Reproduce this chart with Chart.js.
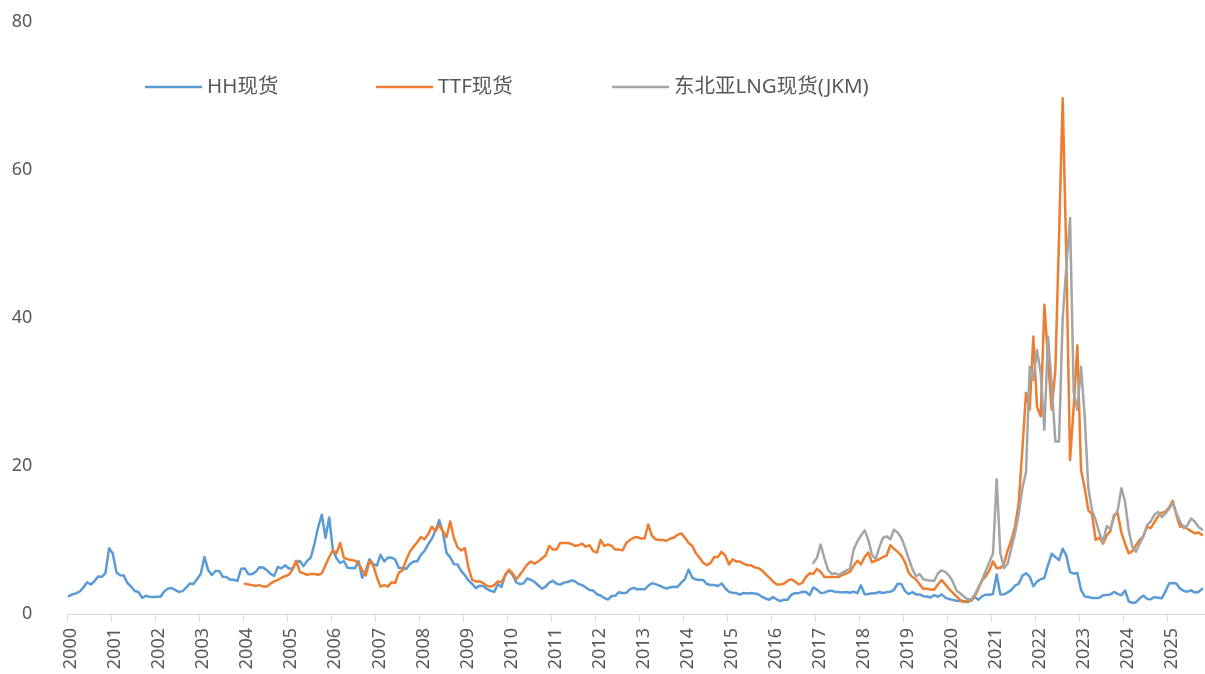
<!DOCTYPE html>
<html lang="zh-CN">
<head>
<meta charset="utf-8">
<title>HH / TTF / JKM 现货价格</title>
<script src="https://cdn.jsdelivr.net/npm/chart.js@4.4.1/dist/chart.umd.min.js"></script>
<style>
  html, body { margin: 0; padding: 0; background: #fff; }
  #wrap { width: 1205px; height: 674px; position: relative; }
</style>
</head>
<body>
<div id="wrap"><canvas id="gasChart"></canvas></div>
<script>
// Monthly spot prices, USD/MMBtu. Index 0 = Jan 2000.
const yearLabels = ['2000', '2001', '2002', '2003', '2004', '2005', '2006', '2007', '2008',
  '2009', '2010', '2011', '2012', '2013', '2014', '2015', '2016', '2017', '2018', '2019',
  '2020', '2021', '2022', '2023', '2024', '2025'];
const yTicks = [0, 20, 40, 60, 80];

const hhStart = 0;     // 2000-01
const ttfStart = 48;   // 2004-01
const jkmStart = 203;  // 2016-12

const hhSpot = [
  2.42, 2.66, 2.79, 3.04, 3.59, 4.29, 3.99, 4.43, 5.06, 5.02, 5.52, 8.90,       // 2000
  8.17, 5.61, 5.23, 5.19, 4.19, 3.72, 3.11, 2.97, 2.19, 2.46, 2.34, 2.30,       // 2001
  2.32, 2.32, 3.03, 3.43, 3.50, 3.26, 2.99, 3.09, 3.55, 4.13, 4.04, 4.74,       // 2002
  5.43, 7.71, 5.93, 5.26, 5.81, 5.82, 5.03, 4.99, 4.62, 4.63, 4.47, 6.13,       // 2003
  6.14, 5.37, 5.39, 5.71, 6.33, 6.27, 5.93, 5.41, 5.15, 6.35, 6.17, 6.58,       // 2004
  6.15, 6.14, 6.96, 7.16, 6.47, 7.18, 7.63, 9.53, 11.75, 13.42, 10.30, 13.05,   // 2005
  8.69, 7.54, 6.89, 7.16, 6.25, 6.21, 6.17, 7.14, 4.90, 5.85, 7.41, 6.73,       // 2006
  6.55, 8.00, 7.11, 7.60, 7.64, 7.35, 6.22, 6.22, 6.08, 6.74, 7.10, 7.11,       // 2007
  7.99, 8.54, 9.41, 10.18, 11.27, 12.69, 11.09, 8.26, 7.67, 6.74, 6.68, 5.82,   // 2008
  5.24, 4.52, 4.06, 3.50, 3.83, 3.80, 3.38, 3.14, 2.99, 4.01, 3.66, 5.35,       // 2009
  5.83, 5.32, 4.29, 4.03, 4.14, 4.80, 4.63, 4.32, 3.89, 3.43, 3.71, 4.25,       // 2010
  4.49, 4.09, 3.97, 4.24, 4.31, 4.54, 4.42, 4.06, 3.90, 3.57, 3.24, 3.17,       // 2011
  2.67, 2.50, 2.17, 1.95, 2.43, 2.46, 2.95, 2.84, 2.85, 3.32, 3.54, 3.34,       // 2012
  3.33, 3.33, 3.81, 4.17, 4.04, 3.83, 3.62, 3.43, 3.62, 3.68, 3.64, 4.24,       // 2013
  4.71, 6.00, 4.90, 4.66, 4.58, 4.59, 4.05, 3.91, 3.92, 3.78, 4.12, 3.48,       // 2014
  2.99, 2.87, 2.83, 2.61, 2.85, 2.78, 2.84, 2.77, 2.66, 2.34, 2.09, 1.93,       // 2015
  2.28, 1.99, 1.73, 1.92, 1.92, 2.59, 2.82, 2.82, 2.99, 2.98, 2.55, 3.59,       // 2016
  3.30, 2.85, 2.88, 3.10, 3.15, 2.98, 2.98, 2.90, 2.98, 2.88, 3.01, 2.82,       // 2017
  3.87, 2.67, 2.69, 2.80, 2.80, 2.97, 2.83, 2.96, 3.00, 3.28, 4.09, 4.04,       // 2018
  3.11, 2.69, 2.95, 2.65, 2.64, 2.40, 2.37, 2.22, 2.56, 2.33, 2.65, 2.22,       // 2019
  2.02, 1.91, 1.79, 1.74, 1.75, 1.63, 1.77, 2.30, 1.92, 2.39, 2.61, 2.59,       // 2020
  2.71, 5.35, 2.62, 2.66, 2.91, 3.26, 3.84, 4.07, 5.16, 5.51, 5.05, 3.76,       // 2021
  4.38, 4.69, 4.90, 6.60, 8.14, 7.70, 7.28, 8.81, 7.88, 5.66, 5.45, 5.53,       // 2022
  3.27, 2.38, 2.31, 2.16, 2.15, 2.18, 2.55, 2.58, 2.64, 2.98, 2.71, 2.52,       // 2023
  3.18, 1.72, 1.49, 1.60, 2.12, 2.48, 2.04, 1.99, 2.28, 2.20, 2.12, 3.01,       // 2024
  4.13, 4.19, 4.12, 3.42, 3.12, 3.02, 3.20, 2.91, 2.97, 3.40                    // 2025
];

const ttfSpot = [
  4.1, 4.0, 3.9, 3.8, 3.9, 3.7, 3.7, 4.1, 4.4, 4.6, 4.9, 5.1,          // 2004
  5.3, 6.0, 7.2, 5.7, 5.5, 5.3, 5.4, 5.4, 5.3, 5.5, 6.6, 7.7,          // 2005
  8.6, 8.2, 9.6, 7.6, 7.4, 7.3, 7.2, 6.9, 5.9, 5.2, 7.2, 6.6,          // 2006
  5.0, 3.7, 3.9, 3.7, 4.3, 4.2, 5.6, 5.9, 7.3, 8.4, 9.1, 9.7,          // 2007
  10.4, 10.1, 10.8, 11.8, 11.2, 12.0, 11.2, 10.4, 12.5, 10.3, 9.0, 8.6, // 2008
  8.9, 6.2, 4.6, 4.4, 4.4, 4.2, 3.8, 3.7, 3.9, 4.4, 4.3, 5.2,          // 2009
  6.0, 5.5, 4.7, 5.3, 6.0, 6.7, 7.1, 6.8, 7.1, 7.5, 7.9, 9.2,          // 2010
  8.7, 8.7, 9.6, 9.6, 9.6, 9.5, 9.2, 9.3, 9.5, 9.1, 9.3, 8.5,          // 2011
  8.3, 10.0, 9.2, 9.4, 9.2, 8.7, 8.7, 8.6, 9.6, 10.0, 10.3, 10.4,      // 2012
  10.2, 10.2, 12.1, 10.6, 10.1, 10.0, 10.0, 9.9, 10.2, 10.3, 10.7, 10.9, // 2013
  10.3, 9.6, 9.2, 8.2, 7.6, 6.9, 6.6, 6.9, 7.7, 7.7, 8.4, 7.9,         // 2014
  6.7, 7.4, 7.1, 7.1, 6.8, 6.6, 6.6, 6.3, 6.2, 5.9, 5.4, 4.9,          // 2015
  4.4, 4.0, 4.0, 4.1, 4.5, 4.7, 4.4, 4.0, 4.2, 5.0, 5.5, 5.4,          // 2016
  6.1, 5.7, 5.0, 5.0, 5.0, 5.0, 5.0, 5.3, 5.5, 5.7, 6.5, 7.2,          // 2017
  6.7, 7.7, 8.3, 7.0, 7.2, 7.4, 7.7, 7.9, 9.3, 8.8, 8.4, 7.9,          // 2018
  7.0, 5.6, 5.0, 4.7, 4.0, 3.4, 3.4, 3.3, 3.3, 4.0, 4.6, 4.0,          // 2019
  3.4, 2.9, 2.4, 1.9, 1.6, 1.8, 1.8, 2.4, 3.4, 4.5, 5.1, 5.9,          // 2020
  7.1, 6.2, 6.2, 6.8, 8.6, 10.0, 11.8, 15.0, 22.2, 29.9, 27.6, 37.5,   // 2021
  28.0, 26.7, 41.8, 34.5, 27.6, 33.0, 51.0, 69.7, 48.0, 20.8, 28.0, 36.3, // 2022
  19.5, 17.0, 14.0, 13.5, 10.0, 10.3, 9.5, 10.6, 11.2, 13.4, 13.6, 11.0, // 2023
  9.5, 8.2, 8.5, 9.3, 10.0, 10.5, 11.8, 11.6, 12.4, 13.2, 13.7, 13.8,  // 2024
  14.4, 15.3, 13.4, 11.8, 11.9, 11.5, 11.2, 10.9, 11.0, 10.7           // 2025
];

const jkmSpot = [
  6.9,                                                                 // 2016-12
  7.6, 9.4, 7.6, 6.0, 5.4, 5.5, 5.3, 5.6, 5.9, 6.1, 8.7, 9.8,          // 2017
  10.6, 11.3, 10.0, 8.0, 7.4, 9.0, 10.3, 10.5, 10.1, 11.4, 11.0, 10.3, // 2018
  9.0, 7.5, 6.1, 5.1, 5.4, 4.7, 4.6, 4.5, 4.5, 5.5, 5.9, 5.7,          // 2019
  5.2, 4.4, 3.2, 2.8, 2.4, 2.0, 2.0, 2.6, 3.6, 4.6, 5.8, 7.0,          // 2020
  8.2, 18.2, 8.2, 6.2, 6.8, 8.9, 10.9, 13.5, 17.0, 19.2, 33.4, 31.6,   // 2021
  35.7, 32.5, 24.9, 37.5, 31.0, 23.3, 23.3, 40.0, 47.0, 53.5, 30.0, 27.6, // 2022
  33.4, 26.7, 17.0, 14.0, 12.7, 11.0, 9.7, 11.9, 11.5, 13.1, 14.0, 17.0, // 2023
  15.2, 11.3, 9.1, 8.4, 9.5, 10.5, 12.0, 12.5, 13.4, 13.8, 13.1, 13.6, // 2024
  14.2, 15.0, 13.6, 12.5, 11.6, 12.0, 12.9, 12.5, 11.8, 11.4           // 2025
];

const seriesNames = ['HH现货', 'TTF现货', '东北亚LNG现货(JKM)'];
const seriesColors = ['#5B9BD5', '#ED7D31', '#A5A5A5'];

const FONT = '"Noto Sans", "Noto Sans CJK SC", sans-serif';
const TEXT_GRAY = '#595959';
const AXIS_GRAY = '#D9D9D9';

// month index -> point; values sit a little after the year tick, like the original
function toPoints(values, start) {
  return values.map((v, i) => ({ x: start + i + 0.4, y: v }));
}

// legend drawn inside the plot, one row near the top
const legendSlots = [145, 376, 612];
const insideLegend = {
  id: 'insideLegend',
  afterDraw(chart) {
    const ctx = chart.ctx;
    ctx.save();
    ctx.font = '20.5px ' + FONT;
    ctx.textBaseline = 'middle';
    ctx.textAlign = 'left';
    chart.data.datasets.forEach((ds, i) => {
      const x = legendSlots[i];
      const y = 87;
      ctx.strokeStyle = ds.borderColor;
      ctx.lineWidth = 2.5;
      ctx.beginPath();
      ctx.moveTo(x, y);
      ctx.lineTo(x + 57, y);
      ctx.stroke();
      ctx.fillStyle = TEXT_GRAY;
      ctx.fillText(ds.label, x + 62, y);
    });
    ctx.restore();
  }
};

function makeDataset(idx, values, start, order) {
  return {
    label: seriesNames[idx],
    data: toPoints(values, start),
    borderColor: seriesColors[idx],
    backgroundColor: seriesColors[idx],
    borderWidth: 2.5,
    pointRadius: 0,
    pointHoverRadius: 0,
    tension: 0,
    borderJoinStyle: 'round',
    borderCapStyle: 'round',
    order: order
  };
}

document.addEventListener('DOMContentLoaded', function () {
  const ctx = document.getElementById('gasChart').getContext('2d');
  new Chart(ctx, {
    type: 'line',
    data: {
      datasets: [
        makeDataset(0, hhSpot, hhStart, 3),
        makeDataset(1, ttfSpot, ttfStart, 2),
        makeDataset(2, jkmSpot, jkmStart, 1)
      ]
    },
    options: {
      responsive: true,
      maintainAspectRatio: false,
      animation: false,
      layout: { padding: 0 },
      plugins: {
        legend: { display: false },
        tooltip: { enabled: false }
      },
      scales: {
        x: {
          type: 'linear',
          min: 0,
          max: 310.2,
          afterBuildTicks: (scale) => {
            scale.ticks = yearLabels.map((_, i) => ({ value: i * 12 }));
          },
          afterFit: (scale) => { scale.height = 60; },
          grid: {
            display: true,
            drawOnChartArea: false,
            drawTicks: true,
            tickLength: 8,
            color: AXIS_GRAY
          },
          border: { display: true, color: AXIS_GRAY, width: 1 },
          ticks: {
            autoSkip: false,
            minRotation: 90,
            maxRotation: 90,
            padding: 6,
            labelOffset: 4,
            color: TEXT_GRAY,
            font: { family: FONT, size: 18 },
            callback: (value) => yearLabels[Math.round(value / 12)]
          }
        },
        y: {
          min: 0,
          max: 80,
          afterBuildTicks: (scale) => {
            scale.ticks = yTicks.map(v => ({ value: v }));
          },
          afterFit: (scale) => {
            scale.width = 67.3;
            scale.paddingTop = 22; // room above the plot for the "80" label
          },
          grid: { display: false, drawTicks: false },
          border: { display: false },
          ticks: {
            padding: 35,
            color: TEXT_GRAY,
            font: { family: FONT, size: 18 }
          }
        }
      }
    },
    plugins: [insideLegend]
  });
});
</script>
</body>
</html>
